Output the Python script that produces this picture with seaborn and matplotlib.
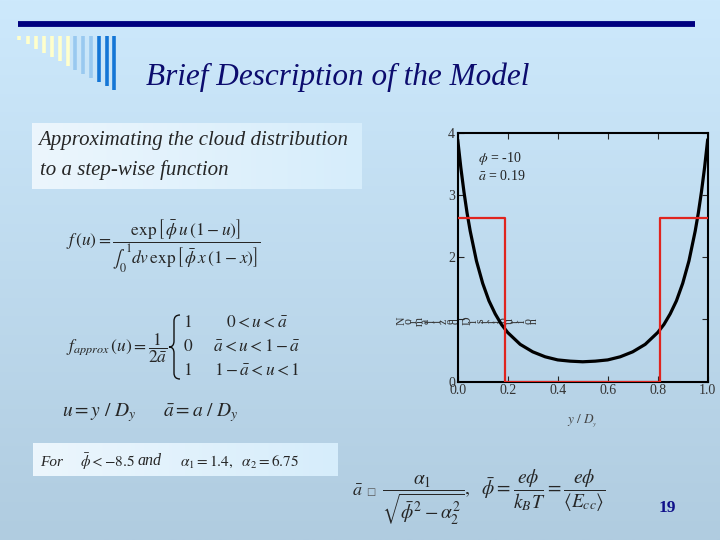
import numpy as np
import pandas as pd
import matplotlib
matplotlib.use("Agg")
import matplotlib.pyplot as plt
from matplotlib.path import Path
from matplotlib.patches import PathPatch
import seaborn as sns

# normalized cloud distribution, phi = -10
u_vals = [0.0, 0.0125, 0.025, 0.0375, 0.05, 0.075, 0.1, 0.125, 0.15, 0.175, 0.2,
          0.25, 0.3, 0.35, 0.4, 0.45, 0.5, 0.55, 0.6, 0.65, 0.7, 0.75, 0.8,
          0.825, 0.85, 0.875, 0.9, 0.925, 0.95, 0.9625, 0.975, 0.9875, 1.0]
f_vals = [3.89, 3.44, 3.05, 2.71, 2.42, 1.94, 1.58, 1.30, 1.09, 0.92, 0.79,
          0.60, 0.48, 0.40, 0.35, 0.33, 0.32, 0.33, 0.35, 0.40, 0.48, 0.60, 0.79,
          0.92, 1.09, 1.30, 1.58, 1.94, 2.42, 2.71, 3.05, 3.44, 3.89]

# step-wise approximation, a = 0.19 -> height 1/(2a)
step_x = [0.0, 0.19, 0.19, 0.81, 0.81, 1.0]
step_y = [2.63, 2.63, 0.0, 0.0, 2.63, 2.63]

x_ticks = [0.0, 0.2, 0.4, 0.6, 0.8, 1.0]
x_labels = ["0.0", "0.2", "0.4", "0.6", "0.8", "1.0"]
y_ticks = [0, 1, 2, 3, 4]
y_labels = ["0", "", "2", "3", "4"]

sns.set_theme(style="ticks")
plt.rcParams["font.family"] = ["Liberation Serif", "DejaVu Sans"]
plt.rcParams["mathtext.fontset"] = "stix"

fig = plt.figure(figsize=(7.2, 5.4), dpi=100)

# slide background (pixel coordinates)
bg = fig.add_axes([0, 0, 1, 1])
bg.set_xlim(0, 720)
bg.set_ylim(540, 0)
bg.axis("off")
top_c = np.array([205, 233, 252]) / 255
bot_c = np.array([176, 204, 224]) / 255
t = np.linspace(0, 1, 256)[:, None]
grad = top_c[None, None, :] * (1 - t[:, :, None]) + bot_c[None, None, :] * t[:, :, None]
bg.imshow(grad, extent=[0, 720, 540, 0], aspect="auto", zorder=0)

def light_box(x0, x1, y0, y1):
    s = np.linspace(0, 1, 128)[None, :]
    left = np.array([236, 246, 253]) / 255
    right = np.array([214, 237, 251]) / 255
    g = left[None, None, :] * (1 - s[:, :, None]) + right[None, None, :] * s[:, :, None]
    bg.imshow(g, extent=[x0, x1, y1, y0], aspect="auto", zorder=1)

light_box(32, 362, 123, 189)
light_box(33, 338, 443, 476)

# header rule and decorative bars
bg.plot([18, 695], [24, 24], color="#00007f", lw=4.2, solid_capstyle="butt", zorder=2)
bar_x = [19, 27.5, 35.5, 43.5, 51.5, 59.5, 67.5, 75, 83, 91, 99, 106.5, 114]
bar_bot = [40, 44, 49, 53, 57, 61, 66, 70, 74, 78, 82, 86, 90]
bar_col = ["#ffffcc"] * 7 + ["#99c9f0"] * 3 + ["#1476d6"] * 3
for bx, bb, bc in zip(bar_x, bar_bot, bar_col):
    bg.plot([bx, bx], [36, bb], color=bc, lw=2.6, solid_capstyle="butt", zorder=2)

bg.text(338, 77, "Brief Description of the Model", fontsize=22.5, style="italic",
        color="#0c0c6e", ha="center", va="center", zorder=3)

bg.text(38, 141, "Approximating the cloud distribution", fontsize=15, style="italic",
        ha="left", va="center", zorder=3)
bg.text(40, 170, "to a step-wise function", fontsize=15, style="italic",
        ha="left", va="center", zorder=3)

# equations on the left
bg.text(66, 246, r"$f\,(u) = \dfrac{\exp\left[\,\bar{\phi}\,u\,(1-u)\right]}"
                 r"{\int_0^1 dv\,\exp\left[\,\bar{\phi}\,x\,(1-x)\right]}$",
        fontsize=12.5, ha="left", va="center", zorder=3)
bg.text(66, 348, r"$f_{approx}\,(u) = \dfrac{1}{2\bar{a}}$", fontsize=12.5,
        ha="left", va="center", zorder=3)

# curly brace of the piecewise definition
brace = Path([(180, 315), (174, 315), (174, 321), (174, 341), (174, 347), (169, 347),
              (174, 347), (174, 353), (174, 373), (174, 379), (180, 379)],
             [Path.MOVETO, Path.CURVE3, Path.CURVE3, Path.LINETO, Path.CURVE3,
              Path.CURVE3, Path.CURVE3, Path.CURVE3, Path.LINETO, Path.CURVE3,
              Path.CURVE3])
bg.add_patch(PathPatch(brace, fill=False, lw=1.0, edgecolor="#111111", zorder=3))

for yy, val, cond in [(323, "1", r"$0 < u < \bar{a}$"),
                      (347, "0", r"$\bar{a} < u < 1-\bar{a}$"),
                      (371, "1", r"$1-\bar{a} < u < 1$")]:
    bg.text(183, yy, "$" + val + "$", fontsize=12.5, ha="left", va="center", zorder=3)
    bg.text(257, yy, cond, fontsize=12.5, ha="center", va="center", zorder=3)

bg.text(62, 413, r"$u = y\ /\ D_y \quad\quad \bar{a} = a\ /\ D_y$", fontsize=14,
        ha="left", va="center", zorder=3)

bg.text(40, 462, "For", fontsize=11, style="italic", ha="left", va="center", zorder=3)
bg.text(80, 462, r"$\bar{\phi} < -8.5$", fontsize=11, ha="left", va="center", zorder=3)
bg.text(138, 461, "and", fontsize=11.5, style="italic", ha="left", va="center", zorder=3)
bg.text(180, 462, r"$\alpha_1 = 1.4,\ \ \alpha_2 = 6.75$", fontsize=11,
        ha="left", va="center", zorder=3)

bg.text(352, 492, r"$\bar{a}$", fontsize=13, ha="left", va="center", zorder=3)
bg.text(366, 492, "\u25a1", fontsize=7, family="DejaVu Sans", color="#555555",
        ha="left", va="center", zorder=3)
bg.text(382, 497, r"$\dfrac{\alpha_1}{\sqrt{\bar{\phi}^2-\alpha_2^2}},\ \ \bar{\phi}"
                  r" = \dfrac{e\phi}{k_B T} = \dfrac{e\phi}{\langle E_{cc}\rangle}$",
        fontsize=14, ha="left", va="center", zorder=3)
bg.text(667, 508, "19", fontsize=12.5, fontweight="bold", color="#10108a",
        ha="center", va="center", zorder=3)

# garbled y-axis label of the original figure (letters turned on their side)
for i, ch in enumerate("Normalized Distribution"):
    bg.text(402 + i * 6, 321, ch, fontsize=8.5, rotation=90, color="#333333",
            ha="center", va="center", zorder=3)

# the chart itself
ax = fig.add_axes([457.7 / 720, 1 - 381.7 / 540, 250 / 720, 249 / 540])
ax.set_facecolor("none")
df_curve = pd.DataFrame({"u": u_vals, "f": f_vals})
df_step = pd.DataFrame({"u": step_x, "f": step_y})
sns.lineplot(data=df_curve, x="u", y="f", ax=ax, color="black", lw=2.3,
             sort=False, estimator=None, zorder=3)
sns.lineplot(data=df_step, x="u", y="f", ax=ax, color="#e0241e", lw=1.6,
             sort=False, estimator=None, zorder=4)
ax.set_xlim(0, 1)
ax.set_ylim(0, 4)
ax.set_xticks(x_ticks)
ax.set_xticklabels(x_labels)
ax.set_yticks(y_ticks)
ax.set_yticklabels(y_labels)
ax.tick_params(direction="in", top=True, right=True, length=4, width=0.8,
               labelsize=10, labelcolor="#333333", pad=2)
for sp in ax.spines.values():
    sp.set_linewidth(1.5)
    sp.set_color("black")
ax.set_ylabel("")
ax.set_xlabel(r"$y\ /\ D_{_y}$", fontsize=9.5, color="#444444", labelpad=11)
ax.text(0.08, 3.58, r"$\phi$ = -10", fontsize=10, color="#222222", va="center")
ax.text(0.08, 3.30, r"$\bar{a}$ = 0.19", fontsize=10, color="#222222", va="center")

plt.savefig("out.png", dpi=100)
